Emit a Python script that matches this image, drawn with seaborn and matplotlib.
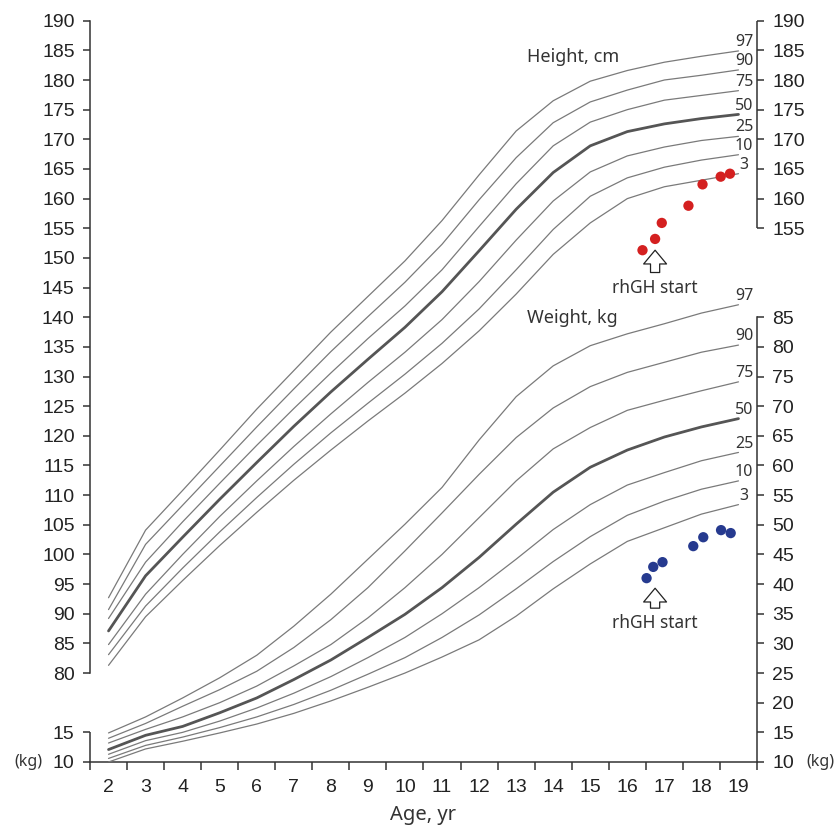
import numpy as np
import matplotlib
matplotlib.use("Agg")
import matplotlib.pyplot as plt
import seaborn as sns

# -----------------------------
# data
# -----------------------------
ages = list(range(2, 20))
pct_labels = ["3", "10", "25", "50", "75", "90", "97"]

# height percentiles, cm
h_p3 = [81.3, 89.5, 95.6, 101.5, 107.1, 112.5, 117.6, 122.5, 127.2, 132.2, 137.7, 143.9, 150.6, 155.9, 160.0, 162.0, 163.1, 164.2]
h_p10 = [83.1, 91.3, 97.7, 103.8, 109.6, 115.2, 120.5, 125.5, 130.4, 135.6, 141.4, 148.0, 154.8, 160.4, 163.5, 165.3, 166.5, 167.4]
h_p25 = [84.8, 93.3, 100.0, 106.4, 112.4, 118.2, 123.7, 129.0, 134.1, 139.6, 146.0, 153.0, 159.6, 164.5, 167.2, 168.7, 169.8, 170.5]
h_p50 = [87.1, 96.4, 102.9, 109.3, 115.5, 121.6, 127.4, 132.9, 138.3, 144.3, 151.2, 158.2, 164.4, 168.9, 171.3, 172.6, 173.5, 174.2]
h_p75 = [89.2, 98.7, 105.5, 112.0, 118.4, 124.6, 130.6, 136.4, 141.9, 148.0, 155.3, 162.5, 168.9, 172.9, 175.0, 176.6, 177.4, 178.2]
h_p90 = [90.7, 101.7, 108.3, 114.9, 121.5, 127.9, 134.2, 140.1, 145.9, 152.3, 159.8, 166.9, 172.8, 176.3, 178.3, 180.0, 180.8, 181.7]
h_p97 = [92.7, 104.1, 110.8, 117.6, 124.5, 131.0, 137.5, 143.5, 149.5, 156.3, 164.0, 171.4, 176.5, 179.8, 181.6, 183.0, 184.0, 184.9]

# weight percentiles, kg
w_p3 = [10.0, 12.2, 13.5, 14.9, 16.4, 18.2, 20.3, 22.6, 25.0, 27.7, 30.6, 34.6, 39.2, 43.4, 47.2, 49.5, 51.8, 53.4]
w_p10 = [10.6, 12.8, 14.2, 15.8, 17.6, 19.7, 22.1, 24.8, 27.6, 31.0, 34.8, 39.2, 43.8, 48.0, 51.6, 54.0, 56.0, 57.4]
w_p25 = [11.3, 13.6, 15.0, 16.9, 19.1, 21.6, 24.4, 27.6, 31.0, 35.0, 39.4, 44.2, 49.2, 53.4, 56.7, 58.8, 60.8, 62.2]
w_p50 = [12.1, 14.5, 16.0, 18.3, 20.8, 23.9, 27.2, 31.0, 34.9, 39.4, 44.5, 50.1, 55.5, 59.7, 62.6, 64.8, 66.5, 67.9]
w_p75 = [13.2, 15.5, 17.6, 20.0, 22.8, 26.2, 29.8, 34.3, 39.4, 45.0, 51.2, 57.4, 62.8, 66.4, 69.3, 71.0, 72.6, 74.1]
w_p90 = [14.0, 16.5, 19.4, 22.2, 25.3, 29.3, 34.0, 39.4, 45.6, 52.0, 58.5, 64.7, 69.7, 73.3, 75.7, 77.4, 79.1, 80.3]
w_p97 = [14.9, 17.6, 20.8, 24.2, 28.0, 32.9, 38.3, 44.2, 50.1, 56.3, 64.3, 71.6, 76.8, 80.2, 82.2, 83.9, 85.7, 87.1]

# patient measurements
pt_h_age = [16.41, 16.75, 16.93, 17.65, 18.03, 18.52, 18.77]
pt_height = [151.3, 153.2, 155.9, 158.8, 162.4, 163.7, 164.2]
pt_w_age = [16.52, 16.70, 16.95, 17.78, 18.05, 18.53, 18.79]
pt_weight = [41.0, 42.9, 43.7, 46.4, 47.9, 49.1, 48.6]
rhgh_start_age = 16.75

height_curves = [h_p3, h_p10, h_p25, h_p50, h_p75, h_p90, h_p97]
weight_curves = [w_p3, w_p10, w_p25, w_p50, w_p75, w_p90, w_p97]

# axis layout
H_LIM = (65, 190)
W_LIM = (10, 135)
offset = H_LIM[0] - W_LIM[0]  # cm value at same height as kg value
left_cm_ticks = list(range(80, 195, 5))
left_kg_ticks = [10, 15]
right_kg_ticks = list(range(10, 90, 5))
right_cm_ticks = list(range(155, 195, 5))

# -----------------------------
# plot
# -----------------------------
sns.set_style("ticks")
plt.rcParams["font.family"] = ["Liberation Sans", "DejaVu Sans"]

axis_col = "#333333"
thin_col = "#7a7a7a"
thick_col = "#555555"
text_col = "#333333"

fig = plt.figure(figsize=(8.35, 8.31), dpi=100)
ax = fig.add_axes([90 / 835, 69 / 831, 667 / 835, 741.3 / 831])
axw = ax.twinx()

for lab, vals in zip(pct_labels, height_curves):
    bold = lab == "50"
    sns.lineplot(x=ages, y=vals, ax=ax, color=thick_col if bold else thin_col,
                 lw=2.0 if bold else 0.9)
    ax.text(19.15, vals[-1] + 1.5, lab, ha="center", va="center",
            fontsize=11.5, family="Noto Sans", color=text_col)

for lab, vals in zip(pct_labels, weight_curves):
    bold = lab == "50"
    sns.lineplot(x=ages, y=vals, ax=axw, color=thick_col if bold else thin_col,
                 lw=2.0 if bold else 0.9)
    axw.text(19.15, vals[-1] + 1.5, lab, ha="center", va="center",
             fontsize=11.5, family="Noto Sans", color=text_col)

sns.scatterplot(x=pt_h_age, y=pt_height, ax=ax, color="#d42020", s=55,
                edgecolor="none", zorder=5)
sns.scatterplot(x=pt_w_age, y=pt_weight, ax=axw, color="#263a8f", s=55,
                edgecolor="none", zorder=5)

arrow = dict(arrowstyle="simple,head_length=0.45,head_width=0.75,tail_width=0.3",
             fc="white", ec="#222222", lw=0.9, shrinkA=2, shrinkB=0,
             mutation_scale=22)
ax.annotate("rhGH start", xy=(rhgh_start_age, 151.3), xytext=(rhgh_start_age, 145.0),
            ha="center", va="center", fontsize=12.5, family="Noto Sans",
            color=text_col, arrowprops=arrow)
axw.annotate("rhGH start", xy=(rhgh_start_age, 39.3), xytext=(rhgh_start_age, 33.4),
             ha="center", va="center", fontsize=12.5, family="Noto Sans",
             color=text_col, arrowprops=arrow)

ax.text(13.3, 183.9, "Height, cm", ha="left", va="center", fontsize=13,
        family="Noto Sans", color=text_col)
axw.text(13.3, 139.8 - offset, "Weight, kg", ha="left", va="center", fontsize=13,
         family="Noto Sans", color=text_col)

# x axis: ticks between years, labels at years
ax.set_xlim(1.5, 19.5)
ax.set_xticks(np.arange(1.5, 20, 1))
ax.set_xticklabels([])
ax.set_xticks(ages, minor=True)
ax.set_xticklabels([str(a) for a in ages], minor=True)
ax.tick_params(axis="x", which="major", length=6, width=1.1, color=axis_col)
ax.tick_params(axis="x", which="minor", length=0, pad=12, labelsize=14,
               labelcolor="#222222")
ax.set_xlabel("Age, yr", fontsize=14.5, family="Noto Sans", color=text_col,
              labelpad=7)

# left axis: cm with two kg ticks at the bottom
ax.set_ylim(*H_LIM)
ax.set_yticks([t + offset for t in left_kg_ticks] + left_cm_ticks)
ax.set_yticklabels([str(t) for t in left_kg_ticks] + [str(t) for t in left_cm_ticks])
ax.tick_params(axis="y", length=5, width=1.1, color=axis_col, labelsize=14,
               labelcolor="#222222", pad=6)

# right axis: kg with cm ticks on top
axw.set_ylim(*W_LIM)
axw.set_yticks(right_kg_ticks + [t - offset for t in right_cm_ticks])
axw.set_yticklabels([str(t) for t in right_kg_ticks] + [str(t) for t in right_cm_ticks])
axw.tick_params(axis="y", length=5, width=1.1, color=axis_col, labelsize=14,
                labelcolor="#222222", pad=6)

for s in ["top", "right"]:
    ax.spines[s].set_visible(False)
for s in ["top", "left", "bottom"]:
    axw.spines[s].set_visible(False)
for sp in [ax.spines["left"], ax.spines["bottom"], axw.spines["right"]]:
    sp.set_color(axis_col)
    sp.set_linewidth(1.1)
ax.spines["left"].set_bounds(80, 190)
axw.spines["right"].set_bounds(10, 85)
# broken axis pieces
ax.plot([0, 0], [H_LIM[0], 70], transform=ax.get_yaxis_transform(), color=axis_col,
        lw=1.1, clip_on=False, solid_capstyle="butt")
axw.plot([1, 1], [155 - offset, 190 - offset], transform=axw.get_yaxis_transform(),
         color=axis_col, lw=1.1, clip_on=False, solid_capstyle="butt")

fig.text(28 / 835, 1 - 762 / 831, "(kg)", ha="center", va="center", fontsize=11.5,
         family="Noto Sans", color=text_col)
fig.text(820 / 835, 1 - 762 / 831, "(kg)", ha="center", va="center", fontsize=11.5,
         family="Noto Sans", color=text_col)

plt.savefig("out.png", dpi=100)
